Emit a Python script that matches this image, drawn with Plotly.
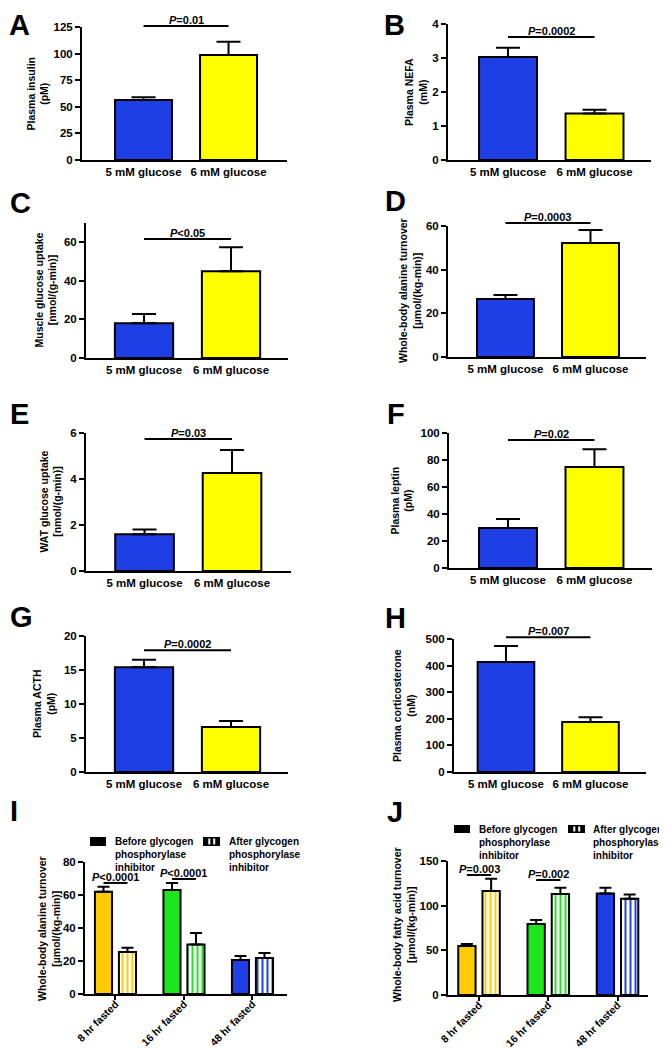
import plotly.graph_objects as go

# The page body adds an 8 px offset; the figure fills the visible window.
OX, OY = 8, 8
W, H = 667 - OX, 1050 - OY
FONT = "Liberation Sans, Arial, sans-serif"
BLUE = "#1f3fe6"
YELLOW = "#ffff00"
GOLD = "#ffcc00"
GREEN = "#1ee61e"

# ---------------- data ----------------
glucose_groups = ["5 mM glucose", "6 mM glucose"]
glucose_colors = [BLUE, YELLOW]

insulin_mean = [56.5, 98.7]
insulin_sem = [2.5, 12.5]
nefa_mean = [3.03, 1.37]
nefa_sem = [0.27, 0.11]
muscle_uptake_mean = [18.0, 45.0]
muscle_uptake_sem = [4.8, 12.4]
alanine_mean = [26.6, 52.2]
alanine_sem = [1.8, 6.0]
wat_uptake_mean = [1.6, 4.26]
wat_uptake_sem = [0.2, 1.0]
leptin_mean = [29.6, 74.8]
leptin_sem = [6.7, 13.2]
acth_mean = [15.4, 6.6]
acth_sem = [1.1, 0.9]
cort_mean = [414, 188]
cort_sem = [60, 18]

fast_groups = ["8 hr fasted", "16 hr fasted", "48 hr fasted"]
fast_colors = [GOLD, GREEN, BLUE]
ala_before = [62.0, 63.0, 20.6]
ala_before_sem = [3.0, 4.3, 2.4]
ala_after = [25.5, 30.0, 21.8]
ala_after_sem = [2.5, 7.0, 3.0]
fa_before = [54.9, 79.5, 113.5]
fa_before_sem = [2.1, 4.5, 6.5]
fa_after = [116.5, 113.0, 107.8]
fa_after_sem = [13.5, 7.0, 4.8]

legend_before = "Before glycogen<br>phosphorylase<br>inhibitor"
legend_after = "After glycogen<br>phosphorylase<br>inhibitor"


# ---------------- layout helpers (screen px -> paper) ----------------
def xp(px):
    return (px - OX) / W


def yp(py):
    return 1 - (py - OY) / H


simple_panels = [
    dict(letter="A", mean=insulin_mean, sem=insulin_sem, title="Plasma insulin<br>(pM)",
         ymax=125, dtick=25, px=(82, 287, 27, 160), xr=(-0.724, 1.688), lt=(0, 12),
         tc=(37.5, 94), p="<i>P</i>=0.01", py=126),
    dict(letter="B", mean=nefa_mean, sem=nefa_sem, title="Plasma NEFA<br>(mM)",
         ymax=4, dtick=1, px=(448, 651, 24, 160), xr=(-0.694, 1.653), lt=(383, 12.5),
         tc=(416, 92), p="<i>P</i>=0.0002", py=3.62),
    dict(letter="C", mean=muscle_uptake_mean, sem=muscle_uptake_sem,
         title="Muscle glucose uptake<br>[nmol/(g-min)]",
         ymax=70, dtick=20, px=(86, 288, 223, 358), xr=(-0.667, 1.655), lt=(0, 203),
         tc=(45.5, 290), p="<i>P</i><0.05", py=61.7),
    dict(letter="D", mean=alanine_mean, sem=alanine_sem,
         title="Whole-body alanine turnover<br>[µmol/(kg-min)]",
         ymax=60, dtick=20, px=(448, 646, 226, 357), xr=(-0.676, 1.653), lt=(383, 201),
         tc=(410, 291), p="<i>P</i>=0.0003", py=61.4),
    dict(letter="E", mean=wat_uptake_mean, sem=wat_uptake_sem,
         title="WAT glucose uptake<br>[nmol/(g-min)]",
         ymax=6, dtick=2, px=(86, 291, 433, 571), xr=(-0.669, 1.674), lt=(0, 414),
         tc=(50.5, 502), p="<i>P</i>=0.03", py=5.74),
    dict(letter="F", mean=leptin_mean, sem=leptin_sem, title="Plasma leptin<br>(pM)",
         ymax=100, dtick=20, px=(449, 652, 433, 568), xr=(-0.682, 1.665), lt=(385, 414),
         tc=(402, 500.5), p="<i>P</i>=0.02", py=94.8),
    dict(letter="G", mean=acth_mean, sem=acth_sem, title="Plasma ACTH<br>(pM)",
         ymax=20, dtick=5, px=(86, 288, 636, 772), xr=(-0.667, 1.655), lt=(0, 617),
         tc=(44, 704), p="<i>P</i>=0.0002", py=17.9),
    dict(letter="H", mean=cort_mean, sem=cort_sem, title="Plasma corticosterone<br>(nM)",
         ymax=500, dtick=100, px=(454, 646, 639, 772), xr=(-0.615, 1.657), lt=(383, 618),
         tc=(403.5, 705.5), p="<i>P</i>=0.007", py=507),
]

fast_panels = [
    dict(letter="I", before=ala_before, before_sem=ala_before_sem, after=ala_after,
         after_sem=ala_after_sem, title="Whole-body alanine turnover<br>[µmol/(kg-min)]",
         ymax=80, dtick=20, px=(85, 287, 862, 994), xr=(-0.445, 2.504), lt=(2, 811),
         tc=(49, 929),
         pvals=[("<i>P</i><0.0001", 0, 67.3), ("<i>P</i><0.0001", 1, 69.7)],
         leg=(90, 837, 106, 846, 113, 203, 220, 227)),
    dict(letter="J", before=fa_before, before_sem=fa_before_sem, after=fa_after,
         after_sem=fa_after_sem, title="Whole-body fatty acid turnover<br>[μmol/(kg-min)]",
         ymax=150, dtick=50, px=(448, 648, 861, 995), xr=(-0.448, 2.44), lt=(385, 812),
         tc=(403.5, 924.5),
         pvals=[("<i>P</i>=0.003", 0, 134.3), ("<i>P</i>=0.002", 1, 128.7)],
         leg=(454, 825, 470, 833, 477, 568, 585, 591)),
]

fig = go.Figure()
shapes = []
annotations = []
layout_axes = {}

tick_font = dict(family=FONT, size=11.5, color="black", weight="bold")
title_font = dict(family=FONT, size=10.5, color="black", weight="bold")
p_font = dict(family=FONT, size=11, color="black", weight="bold")
letter_font = dict(family=FONT, size=29, color="black", weight="bold")


def axis_names(k):
    s = "" if k == 1 else str(k)
    return "x" + s, "y" + s, "xaxis" + s, "yaxis" + s


def add_axes(k, spec, categories, xticks):
    xid, yid, xname, yname = axis_names(k)
    l, r, t, b = spec["px"]
    layout_axes[xname] = dict(
        domain=[xp(l), xp(r)], anchor=yid, range=list(spec["xr"]),
        type="category", categoryorder="array", categoryarray=categories,
        showline=True, linecolor="black", linewidth=2, showgrid=False, zeroline=False,
        ticks=xticks, ticklen=4, tickwidth=2, tickcolor="black",
        tickfont=tick_font, fixedrange=True, automargin=False,
    )
    layout_axes[yname] = dict(
        domain=[yp(b), yp(t)], anchor=xid, range=[0, spec["ymax"]], dtick=spec["dtick"],
        tick0=0, showline=True, linecolor="black", linewidth=2, showgrid=False,
        zeroline=False, ticks="outside", ticklen=5, tickwidth=2, tickcolor="black",
        tickfont=tick_font, fixedrange=True, automargin=False,
    )
    # y-axis title (two lines, rotated)
    annotations.append(dict(
        xref="paper", yref="paper", x=xp(spec["tc"][0]), y=yp(spec["tc"][1]),
        xanchor="center", yanchor="middle", textangle=-90, showarrow=False,
        text=spec["title"], font=title_font, align="center",
    ))
    # panel letter (kept inside the visible page)
    lx = max(spec["lt"][0], OX)
    if spec["lt"][1] < OY + 25:
        annotations.append(dict(
            xref="paper", yref="paper", x=xp(lx), y=1, xanchor="left", yanchor="top",
            showarrow=False, text=spec["letter"], font=letter_font, borderpad=0,
        ))
    else:
        annotations.append(dict(
            xref="paper", yref="paper", x=xp(lx), y=yp(spec["lt"][1]),
            xanchor="left", yanchor="middle", showarrow=False, text=spec["letter"],
            font=letter_font,
        ))


def add_pline(k, spec, x0, x1, yv, text):
    xid, yid, _, _ = axis_names(k)
    r0, r1 = spec["xr"]
    fx0 = (x0 - r0) / (r1 - r0)
    fx1 = (x1 - r0) / (r1 - r0)
    fy = yv / spec["ymax"]
    shapes.append(dict(type="line", xref=xid + " domain", yref=yid + " domain",
                       x0=fx0, x1=fx1, y0=fy, y1=fy,
                       line=dict(color="black", width=2)))
    annotations.append(dict(xref=xid + " domain", yref=yid + " domain",
                            x=(fx0 + fx1) / 2, y=fy, xanchor="center", yanchor="bottom",
                            showarrow=False, text=text, font=p_font, yshift=-2))


k = 0
for spec in simple_panels:
    k += 1
    xid, yid, _, _ = axis_names(k)
    fig.add_trace(go.Bar(
        x=glucose_groups, y=spec["mean"], xaxis=xid, yaxis=yid, width=0.67,
        marker=dict(color=glucose_colors, line=dict(color="black", width=2)),
        error_y=dict(type="data", array=spec["sem"], arrayminus=[0, 0], symmetric=False,
                     color="black", thickness=2, width=12),
        showlegend=False, hoverinfo="x+y",
    ))
    add_axes(k, spec, glucose_groups, "")
    add_pline(k, spec, 0, 1, spec["py"], spec["p"])

for spec in fast_panels:
    k += 1
    xid, yid, xname, _ = axis_names(k)
    fig.add_trace(go.Bar(
        x=fast_groups, y=spec["before"], xaxis=xid, yaxis=yid, width=0.25, offset=-0.30,
        marker=dict(color=fast_colors, line=dict(color="black", width=2)),
        error_y=dict(type="data", array=spec["before_sem"], arrayminus=[0, 0, 0],
                     symmetric=False, color="black", thickness=2, width=6),
        showlegend=False, name="Before",
    ))
    fig.add_trace(go.Bar(
        x=fast_groups, y=spec["after"], xaxis=xid, yaxis=yid, width=0.25, offset=0.05,
        marker=dict(color=fast_colors, line=dict(color="black", width=2),
                    pattern=dict(shape="|", bgcolor=fast_colors, fgcolor="white",
                                 size=5, solidity=0.4, fillmode="replace")),
        error_y=dict(type="data", array=spec["after_sem"], arrayminus=[0, 0, 0],
                     symmetric=False, color="black", thickness=2, width=6),
        showlegend=False, name="After",
    ))
    add_axes(k, spec, fast_groups, "outside")
    layout_axes[xname]["tickangle"] = -45
    layout_axes[xname]["ticklabelstandoff"] = -6
    layout_axes[xname]["tickfont"] = dict(family=FONT, size=10.5, color="black",
                                          weight="bold")
    for text, gi, yv in spec["pvals"]:
        add_pline(k, spec, gi - 0.175, gi + 0.175, yv, text)
    # manual legend
    bx0, by0, bx1, by1, tx, ax0, ax1, atx = spec["leg"]
    shapes.append(dict(type="rect", xref="paper", yref="paper", x0=xp(bx0), x1=xp(bx1),
                       y0=yp(by1), y1=yp(by0), fillcolor="black", line=dict(width=0)))
    shapes.append(dict(type="rect", xref="paper", yref="paper", x0=xp(ax0), x1=xp(ax1),
                       y0=yp(by1), y1=yp(by0), fillcolor="black", line=dict(width=0)))
    for sx in (ax0 + (ax1 - ax0) * 0.37, ax0 + (ax1 - ax0) * 0.66):
        shapes.append(dict(type="line", xref="paper", yref="paper", x0=xp(sx), x1=xp(sx),
                           y0=yp(by1 - 1.5), y1=yp(by0 + 1.5),
                           line=dict(color="white", width=2)))
    cy = (by0 + by1) / 2
    for txx, txt in ((tx, legend_before), (atx, legend_after)):
        annotations.append(dict(xref="paper", yref="paper", x=xp(txx), y=yp(cy - 7.5),
                                xanchor="left", yanchor="top", align="left",
                                showarrow=False, text=txt,
                                font=dict(family=FONT, size=10, color="black",
                                          weight="bold")))

fig.update_layout(
    width=W, height=H, margin=dict(l=0, r=0, t=0, b=0, autoexpand=False),
    paper_bgcolor="white", plot_bgcolor="white",
    barmode="overlay", showlegend=False,
    font=dict(family=FONT, color="black"),
    shapes=shapes, annotations=annotations,
    **layout_axes,
)

fig.write_html("out.html")
